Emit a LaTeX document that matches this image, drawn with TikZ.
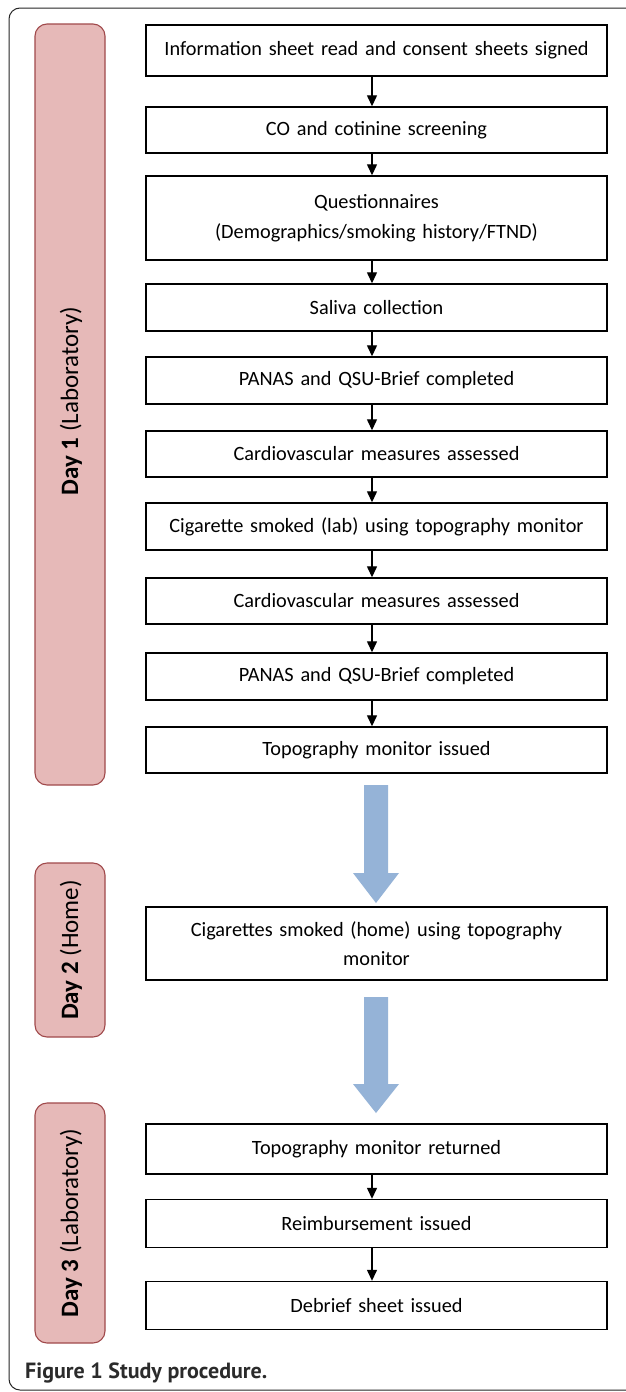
\documentclass[tikz,border=0pt]{standalone}
\usepackage{fontspec}
\setmainfont{Carlito}
\newfontfamily\capfont{PT Sans}
\usetikzlibrary{arrows.meta}
\definecolor{dayfill}{HTML}{E6B9B8}
\definecolor{dayline}{HTML}{A0494B}
\definecolor{bigarrow}{HTML}{95B3D7}
\definecolor{captxt}{HTML}{2B2B2B}
\tikzset{
  stepbox/.style={draw=black, line width=1.4pt, fill=white, minimum width=461pt, text width=450pt, align=center, inner sep=0pt, font=\fontsize{20.3}{29.5}\selectfont},
  daybox/.style={draw=dayline, line width=1.1pt, fill=dayfill, rounded corners=12pt},
  daytxt/.style={rotate=90, font=\fontsize{25}{28}\selectfont, inner sep=0pt},
  conn/.style={line width=1.3pt, -{Triangle[width=10pt,length=11pt]}},
  blockarrow/.style={fill=bigarrow, draw=none}
}
\begin{document}
\begin{tikzpicture}[x=1pt,y=-1pt]
\useasboundingbox (0,0) rectangle (625,1392);
\fill[white] (0,0) rectangle (625,1392);
% outer frame
\draw[line width=1pt, color=black!85, rounded corners=11pt] (660,8) -- (9,8) -- (9,1390) -- (660,1390);
% day boxes
\draw[daybox] (35,24) rectangle (105,785);
\node[daytxt] (d1) at (71,401) {\textbf{Day 1} (Laboratory)};
\draw[daybox] (35,863) rectangle (105,1037);
\node[daytxt] (d2) at (71,950) {\textbf{Day 2} (Home)};
\draw[daybox] (35,1103) rectangle (105,1343);
\node[daytxt] (d3) at (71,1223) {\textbf{Day 3} (Laboratory)};
% steps
\node[stepbox, minimum height=51pt] (b1) at (376.5,50.5) {Information sheet read and consent sheets signed};
\node[stepbox, minimum height=46pt] (b2) at (376.5,130) {CO and cotinine screening};
\node[stepbox, minimum height=84pt] (b3) at (376.5,218) {Questionnaires\\(Demographics/smoking history/FTND)};
\node[stepbox, minimum height=47pt] (b4) at (376.5,307.5) {Saliva collection};
\node[stepbox, minimum height=47pt] (b5) at (376.5,380.5) {PANAS and QSU-Brief completed};
\node[stepbox, minimum height=46pt] (b6) at (376.5,454) {Cardiovascular measures assessed};
\node[stepbox, minimum height=47pt] (b7) at (376.5,526.5) {Cigarette smoked (lab) using topography monitor};
\node[stepbox, minimum height=46pt] (b8) at (376.5,601) {Cardiovascular measures assessed};
\node[stepbox, minimum height=47pt] (b9) at (376.5,676.5) {PANAS and QSU-Brief completed};
\node[stepbox, minimum height=46pt] (b10) at (376.5,750) {Topography monitor issued};
\node[stepbox, minimum height=73pt] (b11) at (376.5,943.5) {Cigarettes smoked (home) using topography\\monitor};
\node[stepbox, minimum height=50pt] (b12) at (376.5,1149) {Topography monitor returned};
\node[stepbox, minimum height=48pt] (b13) at (376.5,1223.5) {Reimbursement issued};
\node[stepbox, minimum height=48pt] (b14) at (376.5,1305.5) {Debrief sheet issued};
% connectors
\coordinate (xa) at (372,0);
\foreach \a/\b in {b1/b2,b2/b3,b3/b4,b4/b5,b5/b6,b6/b7,b7/b8,b8/b9,b9/b10,b12/b13,b13/b14}
  \draw[conn] (\a.south -| xa) -- (\b.north -| xa);
% block arrows
\fill[blockarrow] (364,785) -- (388,785) -- (388,873) -- (399,873) -- (376,903) -- (353,873) -- (364,873) -- cycle;
\fill[blockarrow] (364,997) -- (388,997) -- (388,1084) -- (399,1084) -- (376,1113) -- (353,1084) -- (364,1084) -- cycle;
% caption
\node[anchor=west, inner sep=0pt, text=captxt, font=\capfont\bfseries\fontsize{22}{26}\selectfont] (cap) at (25,1373) {Figure 1 Study procedure.};
\end{tikzpicture}
\end{document}
